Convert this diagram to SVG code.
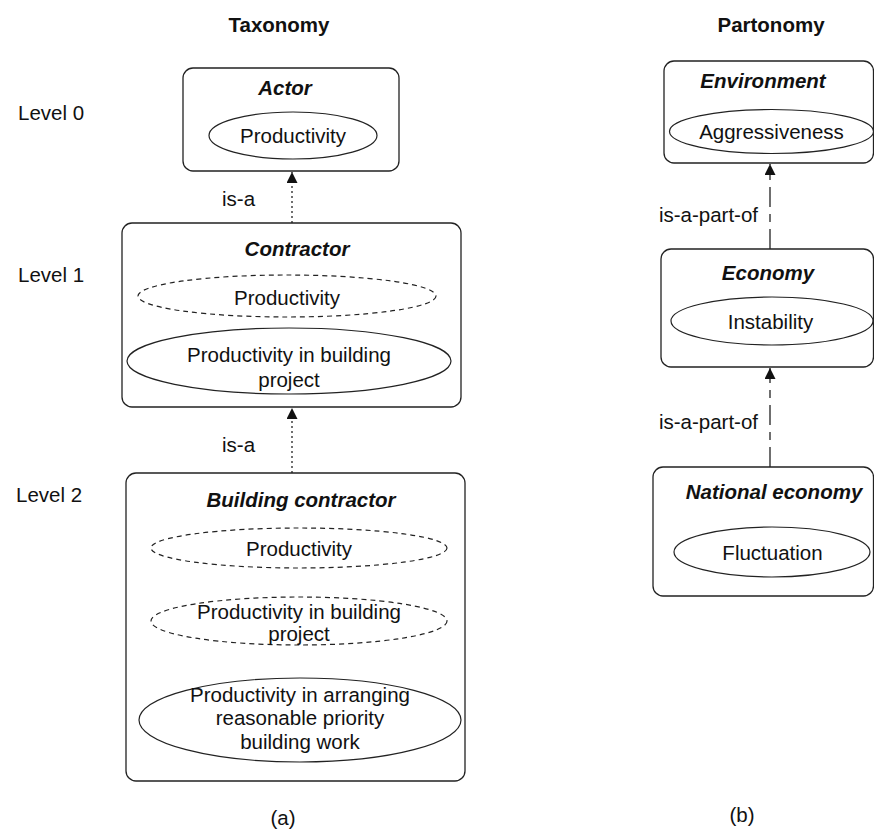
<svg xmlns="http://www.w3.org/2000/svg" width="874" height="831" viewBox="0 0 874 831">
<style>
text{font-family:"Liberation Sans",Arial,sans-serif;font-size:20.5px;fill:#111}
.t{text-anchor:middle}
.h{font-weight:bold;text-anchor:middle}
.bi{font-weight:bold;font-style:italic;text-anchor:middle}
.box{fill:#fff;stroke:#222;stroke-width:1.3}
.el{fill:#fff;stroke:#222;stroke-width:1.2}
.de{fill:#fff;stroke:#222;stroke-width:1.2;stroke-dasharray:5 4}
.isa{stroke:#222;stroke-width:1.3;stroke-dasharray:2 3;fill:none}
.pof{stroke:#222;stroke-width:1.3;stroke-dasharray:20 7 8 7;fill:none}
</style>
<defs>
<marker id="ah" viewBox="0 0 10 10" refX="10" refY="5" markerWidth="11" markerHeight="11" markerUnits="userSpaceOnUse" orient="auto">
<path d="M0,0 L10,5 L0,10 z" fill="#111"/>
</marker>
</defs>
<rect width="874" height="831" fill="#fff"/>
<g id="titles">
<text class="h" x="279" y="32">Taxonomy</text>
<text class="h" x="771" y="32">Partonomy</text>
<text x="18" y="120">Level 0</text>
<text x="18" y="282">Level 1</text>
<text x="16" y="502">Level 2</text>
<text class="t" x="283" y="825">(a)</text>
<text class="t" x="742" y="822">(b)</text>
</g>
<g id="connectors">
<line class="isa" x1="292" y1="223" x2="292" y2="172" marker-end="url(#ah)"/>
<text x="222" y="206">is-a</text>
<line class="isa" x1="292" y1="473" x2="292" y2="408" marker-end="url(#ah)"/>
<text x="222" y="452">is-a</text>
<line class="pof" x1="770" y1="249" x2="770" y2="164" marker-end="url(#ah)"/>
<text x="758" y="222" text-anchor="end">is-a-part-of</text>
<line class="pof" x1="770" y1="467" x2="770" y2="368" marker-end="url(#ah)"/>
<text x="758" y="429" text-anchor="end">is-a-part-of</text>
</g>
<g id="actor">
<rect class="box" x="183" y="68" width="216" height="103" rx="10"/>
<text class="bi" x="285" y="95">Actor</text>
<ellipse class="el" cx="293" cy="135.5" rx="84" ry="23.5"/>
<text class="t" x="293" y="143">Productivity</text>
</g>
<g id="contractor">
<rect class="box" x="122" y="223" width="339" height="184" rx="10"/>
<text class="bi" x="297" y="256">Contractor</text>
<ellipse class="de" cx="287" cy="296" rx="149" ry="21"/>
<text class="t" x="287" y="305">Productivity</text>
<ellipse class="el" cx="289" cy="361" rx="162" ry="33"/>
<text class="t" x="289" y="362">Productivity in building</text>
<text class="t" x="289" y="387">project</text>
</g>
<g id="building-contractor">
<rect class="box" x="126" y="473" width="339" height="308" rx="10"/>
<text class="bi" x="301" y="507">Building contractor</text>
<ellipse class="de" cx="299" cy="548" rx="148" ry="20"/>
<text class="t" x="299" y="556">Productivity</text>
<ellipse class="de" cx="299" cy="621" rx="148" ry="24"/>
<text class="t" x="299" y="619">Productivity in building</text>
<text class="t" x="299" y="641">project</text>
<ellipse class="el" cx="300" cy="720" rx="161" ry="42"/>
<text class="t" x="300" y="702">Productivity in arranging</text>
<text class="t" x="300" y="725">reasonable priority</text>
<text class="t" x="300" y="749">building work</text>
</g>
<g id="environment">
<rect class="box" x="664" y="61" width="209.5" height="102" rx="10"/>
<text class="bi" x="763" y="88">Environment</text>
<ellipse class="el" cx="771.5" cy="131.5" rx="102" ry="22"/>
<text class="t" x="771.5" y="139">Aggressiveness</text>
</g>
<g id="economy">
<rect class="box" x="661" y="249" width="212.5" height="118" rx="10"/>
<text class="bi" x="768" y="280">Economy</text>
<ellipse class="el" cx="772" cy="321" rx="101" ry="24"/>
<text class="t" x="770.5" y="329">Instability</text>
</g>
<g id="national-economy">
<rect class="box" x="653" y="467" width="220.5" height="129" rx="10"/>
<text class="bi" x="774" y="499">National economy</text>
<ellipse class="el" cx="772" cy="552" rx="98" ry="25"/>
<text class="t" x="772.5" y="560">Fluctuation</text>
</g>
</svg>
